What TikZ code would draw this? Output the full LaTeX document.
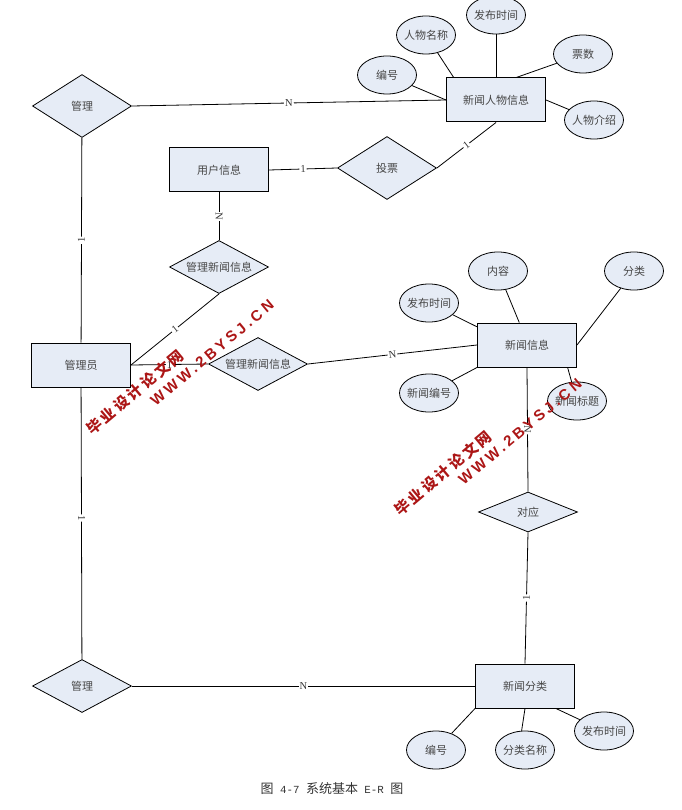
\documentclass[tikz,border=0pt]{standalone}
\usepackage{fontspec}
\setmainfont{Noto Sans CJK SC}
\newfontfamily\latinfont{Liberation Serif}
\newfontfamily\capfont{Liberation Mono}
\newfontfamily\urlfont[LetterSpace=22]{Liberation Sans}
\newfontfamily\markfont[LetterSpace=18]{Noto Sans CJK SC}
\usetikzlibrary{shapes,arrows}
\definecolor{boxfill}{RGB}{230,236,246}
\definecolor{boxtext}{RGB}{70,70,70}
\definecolor{markred}{RGB}{172,22,22}
\newcommand{\tightbox}[1]{\makebox[30pt]{#1}}
\tikzstyle{block} = [rectangle, draw, line width=1pt, fill=boxfill, text=boxtext, font=\fontsize{11}{14}\selectfont, minimum width=99pt, minimum height=44pt]
\tikzstyle{attrib} = [ellipse, draw, line width=0.8pt, fill=boxfill, text=boxtext, font=\fontsize{11}{14}\selectfont, inner sep=0pt, minimum width=59pt, minimum height=38pt]
\tikzstyle{relation} = [diamond, aspect=2, draw, line width=0.8pt, fill=boxfill, text=boxtext, font=\fontsize{11}{14}\selectfont, inner sep=0pt, minimum width=99pt, minimum height=53pt]
\tikzstyle{line} = [draw, line width=0.8pt]
\tikzstyle{card} = [fill=white, sloped, inner sep=1pt, text=black!80, font=\latinfont\fontsize{10.5}{12}\selectfont]
\tikzstyle{wmark} = [text=markred, rotate=40, inner sep=0pt, font=\markfont\bfseries\fontsize{15}{17}\selectfont]
\tikzstyle{wurl} = [text=markred, rotate=40, inner sep=0pt, font=\urlfont\bfseries\fontsize{15}{17}\selectfont]

\begin{document}
\begin{tikzpicture}[x=1pt, y=-1pt]
      \useasboundingbox (0,0) rectangle (681,810);
      \node [block] (admin) at (81,365) {管理员};
      \node [relation, minimum height=63pt, node distance=259pt, above of=admin, xshift=1pt] (manage_person) {管理};
      \node [relation, node distance=321pt, below of=admin, xshift=1pt] (manage_cat) {管理};
      \node [block, node distance=414pt, right of=manage_person, yshift=6pt] (person) {新闻人物信息};
      \node [relation, minimum height=63pt, node distance=68pt, below of=person, xshift=-109pt] (vote) {投票};
      \node [block, node distance=168pt, left of=vote, yshift=-2pt] (user) {用户信息};
      \node [relation, node distance=97pt, below of=user] (manage_user) {管理新闻信息};
      \node [relation, node distance=177pt, right of=admin, yshift=1pt] (manage_news) {管理新闻信息};
      \node [block, node distance=269pt, right of=manage_news, yshift=19pt] (news) {新闻信息};
      \node [relation, minimum height=40pt, node distance=167pt, below of=news, xshift=1pt] (match) {对应};
      \node [block, node distance=444pt, right of=manage_cat, xshift=-1pt] (category) {新闻分类};

      % person attributes
      \node [attrib, node distance=109pt, left of=person, yshift=25pt] (p_id) {编号};
      \node [attrib, node distance=70pt, left of=person, yshift=65pt] (p_name) {\tightbox{人物名称}};
      \node [attrib, node distance=85pt, above of=person] (p_time) {\tightbox{发布时间}};
      \node [attrib, node distance=87pt, right of=person, yshift=46pt] (p_votes) {票数};
      \node [attrib, node distance=98pt, right of=person, yshift=-20pt] (p_intro) {\tightbox{人物介绍}};

      % news attributes
      \node [attrib, node distance=74pt, above of=news, xshift=-29pt] (n_body) {内容};
      \node [attrib, node distance=74pt, above of=news, xshift=107pt] (n_class) {分类};
      \node [attrib, node distance=98pt, left of=news, yshift=42pt] (n_time) {\tightbox{发布时间}};
      \node [attrib, node distance=98pt, left of=news, yshift=-48pt] (n_id) {\tightbox{新闻编号}};
      \node [attrib, node distance=56pt, below of=news, xshift=50pt] (n_title) {\tightbox{新闻标题}};

      % category attributes
      \node [attrib, node distance=64pt, below of=category, xshift=-89pt] (c_id) {编号};
      \node [attrib, node distance=64pt, below of=category] (c_name) {\tightbox{分类名称}};
      \node [attrib, node distance=79pt, right of=category, yshift=-45pt] (c_time) {\tightbox{发布时间}};

      \path [line] (manage_person.east) -- node [card] {N} (person.west);
      \path [line] (manage_person) -- node [card] {1} (admin);
      \path [line] (user.east) -- node [card] {1} (vote.west);
      \path [line] (vote.east) -- node [card] {1} (person.south);
      \path [line] (user) -- node [card, pos=0.5] {N} (manage_user);
      \path [line] (manage_user.south) -- node [card] {1} (admin.east);
      \path [line] (admin.east) -- node [card] {1} (manage_news.west);
      \path [line] (manage_news.east) -- node [card] {N} (news.west);
      \path [line] (news.south) -- node [card] {N} (match.north);
      \path [line] (match.south) -- node [card] {1} (category.north);
      \path [line] (admin) -- node [card, pos=0.48] {1} (manage_cat);
      \path [line] (manage_cat.east) -- node [card] {N} (category.west);

      \path [line] (p_id) -- (person.west);
      \path [line] (p_name) -- (person.152);
      \path [line] (p_time) -- (person.north);
      \path [line] (p_votes) -- (person.48);
      \path [line] (p_intro) -- (person.east);
      \path [line] (n_body) -- (news.109);
      \path [line] (n_class) -- (news.east);
      \path [line] (n_time) -- (news.160);
      \path [line] (n_id) -- (news.south west);
      \path [line] (n_title) -- (news.-29);
      \path [line] (c_id) -- (category.south west);
      \path [line] (c_name.100) -- (category.south);
      \path [line] (c_time) -- (category.-36);

      \node [font=\fontsize{13}{15}\selectfont, text=black!80] (caption) at (332,789) {图{\capfont\fontsize{10.8}{15}\selectfont{} 4-7 }系统基本{\capfont\fontsize{10.8}{15}\selectfont{} E-R }图};

      % overprint
      \node [wmark] (mark_a) at (135,392) {毕业设计论文网};
      \node [wurl] (url_a) at (212,353) {WWW.2BYSJ.CN};
      \node [wmark] (mark_b) at (443,473) {毕业设计论文网};
      \node [wurl] (url_b) at (520,432) {WWW.2BYSJ.CN};
    \end{tikzpicture}
\end{document}
